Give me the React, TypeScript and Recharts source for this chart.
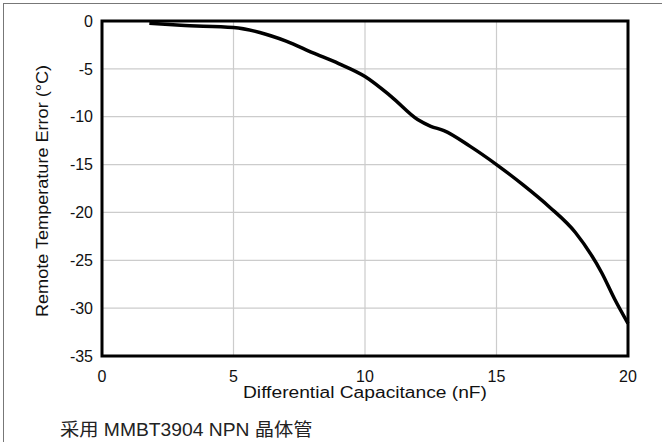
import React from 'react';
import { LineChart, Line, XAxis, YAxis, CartesianGrid, ReferenceArea } from 'recharts';

// capacitance (nF) vs remote temperature error (°C)
const capacitance = [1.8, 3, 5, 6, 7, 8, 9, 10, 11, 12, 12.5, 13, 14, 15, 16, 17, 18, 19, 19.5, 20];
const tempError = [-0.23, -0.45, -0.68, -1.2, -2.1, -3.3, -4.45, -5.8, -7.9, -10.3, -11.0, -11.45, -13.1, -15.0, -17.1, -19.4, -22.1, -26.3, -29.1, -31.6];
const xTicks = [0, 5, 10, 15, 20];
const yTicks = [0, -5, -10, -15, -20, -25, -30, -35];

const data = capacitance.map((c, i) => ({ c, err: tempError[i] }));

const font = '"Liberation Sans", Arial, sans-serif';

const YTitle = () => (
  <text x={42} y={191} transform="rotate(-90 42 191)" textAnchor="middle" dominantBaseline="central"
    fontFamily={font} fontSize={16} fill="#111" textLength={252} lengthAdjust="spacingAndGlyphs">
    Remote Temperature Error (°C)
  </text>
);

const XTitle = () => (
  <text x={365} y={398} textAnchor="middle" fontFamily={font} fontSize={16} fill="#111"
    textLength={244} lengthAdjust="spacingAndGlyphs">
    Differential Capacitance (nF)
  </text>
);

export default function App() {
  return (
    <div style={{ position: 'absolute', left: 0, top: 0, width: 662, height: 442, overflow: 'hidden', background: '#fff' }}>
      <div style={{ position: 'absolute', left: 3, top: 3, width: 700, height: 500, borderTop: '1.5px solid #777', borderLeft: '1.5px solid #777' }} />
      <div style={{ position: 'absolute', left: 0, top: 0 }}>
        <LineChart width={662} height={410} data={data} margin={{ top: 21, right: 34, left: 0, bottom: 4 }}>
          <CartesianGrid stroke="#cccccc" strokeWidth={1.2} />
          <XAxis dataKey="c" type="number" domain={[0, 20]} ticks={xTicks} height={50}
            axisLine={false} tickLine={false} tickSize={0} tickMargin={15}
            tick={{ fontFamily: font, fontSize: 16, fill: '#111' }}
            label={{ content: XTitle }} />
          <YAxis type="number" domain={[-35, 0]} ticks={yTicks} width={102} interval={0}
            axisLine={false} tickLine={false} tickSize={0} tickMargin={9}
            tick={{ fontFamily: font, fontSize: 16, fill: '#111' }}
            label={{ content: YTitle }} />
          <ReferenceArea x1={0} x2={20} y1={-35} y2={0} fill="none" stroke="#000" strokeWidth={3} />
          <Line type="monotone" dataKey="err" stroke="#000" strokeWidth={3.5} dot={false} isAnimationActive={false} />
        </LineChart>
      </div>
      <div style={{ position: 'absolute', left: 60, top: 415, fontFamily: '"Liberation Sans", "Noto Sans CJK SC", sans-serif', fontSize: 18, color: '#222', whiteSpace: 'nowrap', transform: 'scaleX(1.07)', transformOrigin: 'left top' }}>
        采用 MMBT3904 NPN 晶体管
      </div>
    </div>
  );
}
